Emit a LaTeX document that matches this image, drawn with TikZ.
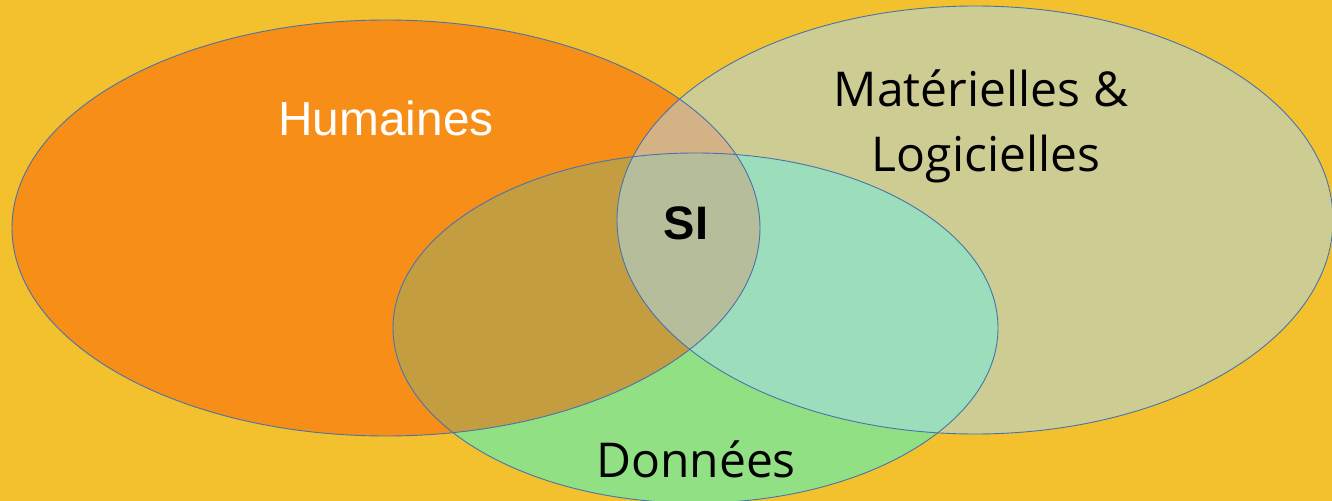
\documentclass[tikz,border=0pt]{standalone}
\usepackage{fontspec}
\setmainfont{Open Sans}
\newfontfamily\arialfont{Liberation Sans}
\begin{document}
\begin{tikzpicture}[x=1bp,y=-1bp]
  % palette
  \definecolor{bgyellow}{HTML}{F2C12D}
  \definecolor{cO}{HTML}{F68E18}
  \definecolor{cB}{HTML}{CDCC93}
  \definecolor{cG}{HTML}{92E084}
  \definecolor{cOB}{HTML}{D3B286}
  \definecolor{cOG}{HTML}{C49D41}
  \definecolor{cBG}{HTML}{9CDEBC}
  \definecolor{cOBG}{HTML}{B6BD9B}
  \definecolor{rim}{HTML}{4873AC}
  \tikzset{
    rimline/.style={draw=rim, line width=0.9bp},
    lbl/.style={anchor=base, inner sep=0pt, font=\fontsize{48bp}{56bp}\selectfont},
  }
  % the three sets
  \def\ellO{(386,228) ellipse [x radius=374, y radius=208]}
  \def\ellB{(975,220) ellipse [x radius=358, y radius=214]}
  \def\ellG{(695.5,328) ellipse [x radius=302.5, y radius=175]}

  \useasboundingbox (0,0) rectangle (1332,501);
  \clip (0,0) rectangle (1332,501);
  \fill[bgyellow] (0,0) rectangle (1332,501);

  % base fills
  \fill[cO] \ellO;
  \fill[cB] \ellB;
  \fill[cG] \ellG;
  % pairwise and triple overlaps
  \begin{scope}
    \clip \ellB;
    \fill[cBG] \ellG;
  \end{scope}
  \begin{scope}
    \clip \ellO;
    \fill[cOB] \ellB;
    \fill[cOG] \ellG;
    \clip \ellB;
    \fill[cOBG] \ellG;
  \end{scope}

  % outlines
  \path[rimline] \ellO;
  \path[rimline] \ellB;
  \path[rimline] \ellG;

  % labels
  \node[lbl, text=white, font=\arialfont\fontsize{47.8bp}{56bp}\selectfont] (hum) at (386,136) {Humaines};
  \node[lbl] (mat) at (981,107) {Matérielles \&};
  \node[lbl] (log) at (986,172) {Logicielles};
  \node[lbl] (don) at (696,477) {Données};
  \node[lbl, font=\arialfont\bfseries\fontsize{47bp}{56bp}\selectfont] (si) at (686,240) {SI};
\end{tikzpicture}
\end{document}
